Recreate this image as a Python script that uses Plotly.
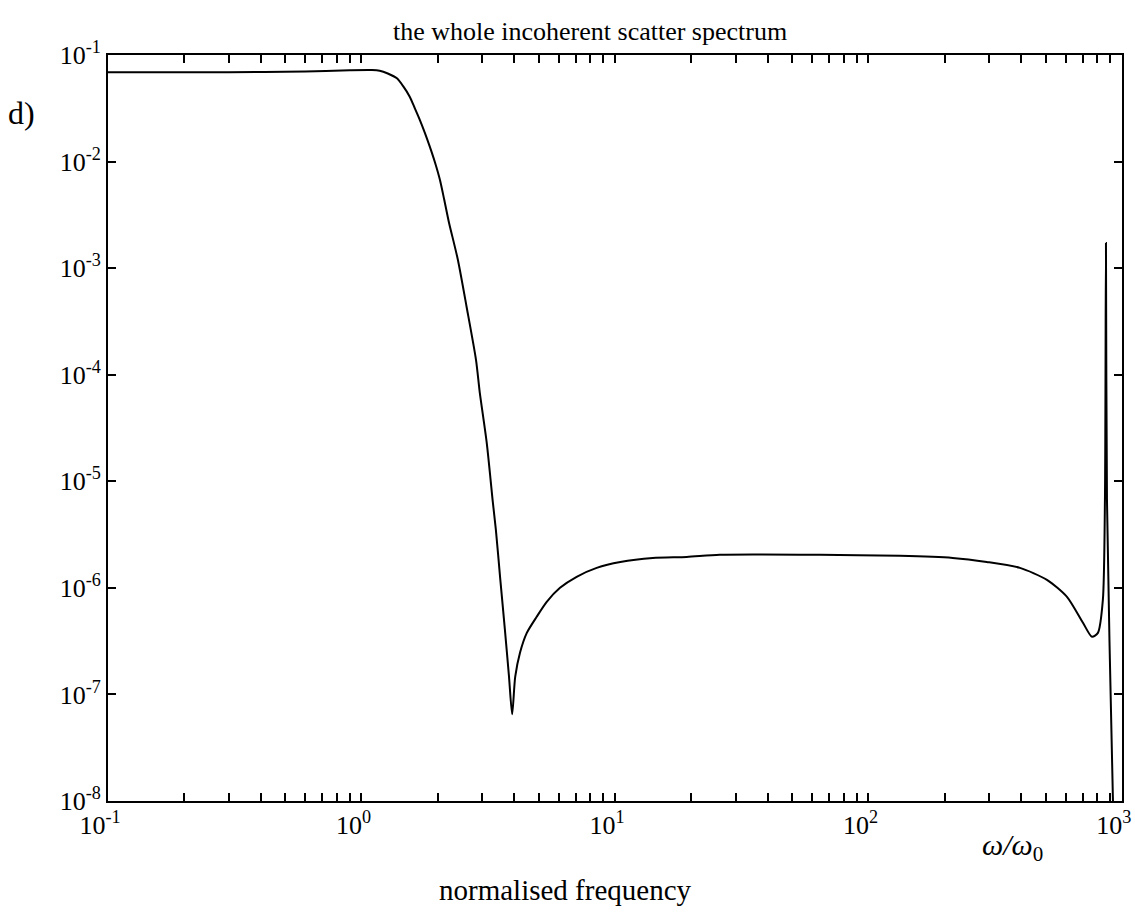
import plotly.graph_objects as go

# normalised frequency (omega/omega0) and spectrum values
freq = [0.1, 0.3, 0.6, 0.9, 1.1, 1.18, 1.27, 1.38, 1.46, 1.55, 1.62, 1.70, 1.78, 1.86,
        1.95, 2.04, 2.12, 2.21, 2.40, 2.60, 2.83, 2.93, 3.12, 3.30, 3.39, 3.53, 3.68,
        3.82, 3.93,
        4.04, 4.22, 4.49, 4.91, 5.38, 6.07, 7.06, 8.47, 10.5, 14.1, 19.2, 25.9,
        64.4, 133, 215, 293, 396, 506, 607, 702, 762, 804, 841, 857, 865,
        873, 921, 929]
spectrum = [0.069, 0.069, 0.070, 0.072, 0.0723, 0.0712, 0.067, 0.0604, 0.051, 0.0406,
            0.032, 0.0245, 0.0185, 0.0138,
            0.0098, 6.71e-3, 4.4e-3, 2.73e-3, 1.2e-3, 4.3e-4, 1.38e-4, 6.75e-5, 2.29e-5,
            6.27e-6, 3.50e-6, 1.19e-6, 4.04e-7,
            1.46e-7, 6.5e-8,
            1.46e-7, 2.46e-7, 3.78e-7, 5.35e-7, 7.39e-7, 1.0e-6, 1.27e-6, 1.54e-6,
            1.75e-6, 1.91e-6, 1.95e-6, 2.04e-6,
            2.04e-6, 2.0e-6, 1.91e-6, 1.75e-6, 1.54e-6, 1.19e-6, 8.24e-7, 4.70e-7,
            3.47e-7, 3.78e-7, 7.7e-7, 6.7e-6, 1.72e-3,
            6.7e-6, 1.1e-8, 6e-9]

x_decades = [-1, 0, 1, 2, 3]
y_decades = [-1, -2, -3, -4, -5, -6, -7, -8]

x_tickvals, x_ticktext = [], []
for d in x_decades:
    for k in range(1, 10):
        if d == 3 and k > 1:
            break
        x_tickvals.append(k * 10.0 ** d)
        x_ticktext.append(f"10<sup>{d}</sup>" if k == 1 else "")
y_tickvals = [10.0 ** d for d in y_decades]
y_ticktext = [f"10<sup>{d}</sup>" for d in y_decades]

FONT = "Liberation Serif"

fig = go.Figure()
fig.add_trace(go.Scatter(x=freq, y=spectrum, mode="lines",
                         line=dict(color="black", width=2, shape="spline", smoothing=0.7),
                         showlegend=False))

axis_common = dict(showline=True, linecolor="black", linewidth=2, mirror="ticks",
                   ticks="inside", ticklen=8, tickwidth=1.5, tickcolor="black",
                   showgrid=False, zeroline=False, automargin=False,
                   tickfont=dict(family=FONT, size=26, color="black"))

fig.update_xaxes(type="log", range=[-1, 3.0003], tickmode="array",
                 tickvals=x_tickvals, ticktext=x_ticktext,
                 ticklabeloverflow="allow", ticklabelshift=-8, **axis_common)
fig.update_yaxes(type="log", range=[-8, -1], tickmode="array",
                 tickvals=y_tickvals, ticktext=y_ticktext, **axis_common)

ann_font = dict(family=FONT, color="black")
fig.update_layout(
    width=1135, height=912, autosize=False,
    margin=dict(l=108, r=13, t=55, b=111),
    paper_bgcolor="white", plot_bgcolor="white",
    annotations=[
        dict(text="the whole incoherent scatter spectrum", xref="paper", yref="paper",
             x=0.475, y=1.031, xanchor="center", yanchor="middle", showarrow=False,
             font=dict(size=26, **ann_font)),
        dict(text="d)", xref="paper", yref="paper", x=-0.085, y=0.922,
             xanchor="center", yanchor="middle", showarrow=False,
             font=dict(size=32, **ann_font)),
        dict(text="<i>ω/ω</i><sub>0</sub>", xref="paper", yref="paper",
             x=0.8925, y=-0.062, xanchor="center", yanchor="middle", showarrow=False,
             font=dict(size=30, **ann_font)),
        dict(text="normalised frequency", xref="paper", yref="paper",
             x=0.451, y=-0.119, xanchor="center", yanchor="middle", showarrow=False,
             font=dict(size=29, **ann_font)),
    ],
)

fig.write_html("out.html")
